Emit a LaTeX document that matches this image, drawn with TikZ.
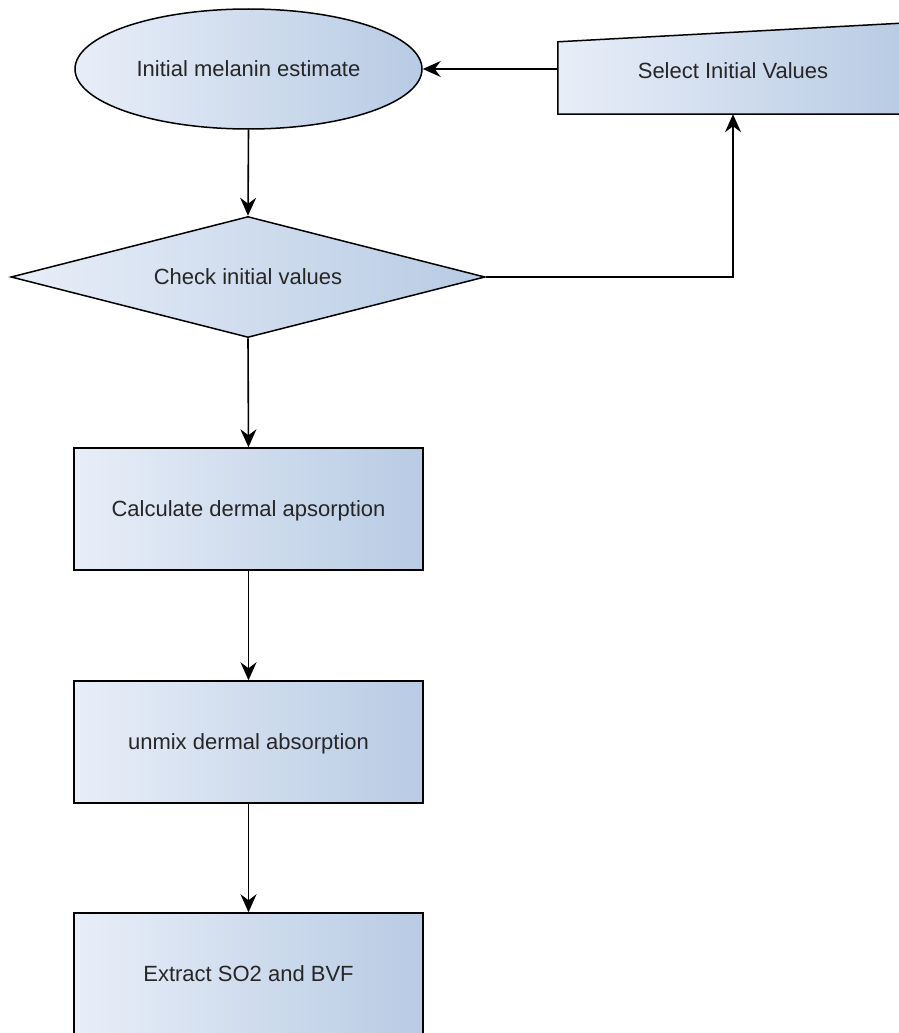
\documentclass[tikz,border=0pt]{standalone}
\usepackage{fontspec}
\setmainfont{Liberation Sans}
\usetikzlibrary{shapes.geometric,arrows.meta,backgrounds}

\definecolor{fillL}{HTML}{E8EEF8}
\definecolor{fillR}{HTML}{B8CBE4}
\definecolor{txt}{HTML}{262626}

\tikzset{
  base/.style={draw=black, line width=1.5pt, left color=fillL, right color=fillR,
    text=txt, font=\fontsize{22}{26}\selectfont, inner sep=0pt,
    text height=15.8pt, text depth=0pt},
  procbox/.style={base, rectangle, minimum width=349pt, minimum height=122pt},
  startoval/.style={base, ellipse, minimum width=347pt, minimum height=120pt},
  decision/.style={base, diamond, aspect=3.9, minimum width=474pt, minimum height=121pt},
  inputtext/.style={rectangle, inner sep=0pt, minimum width=350pt, minimum height=72pt,
    text=txt, font=\fontsize{22}{26}\selectfont, text height=15.8pt, text depth=14pt},
  flow/.style={draw=black, line width=1.6pt, -{Stealth[length=18pt,width=16pt,inset=6pt]}},
}

\begin{document}
\begin{tikzpicture}[x=1pt, y=-1pt]
  \useasboundingbox (0,0) rectangle (899,1033);
  \clip (0,0) rectangle (899,1033);

  % flowchart nodes
  \node[startoval] (ell) at (248.5,69) {Initial melanin estimate};
  \node[decision]  (dia) at (248,277) {Check initial values};
  \node[procbox]   (calc) at (248.5,509) {Calculate dermal apsorption};
  \node[procbox]   (unmix) at (248.5,742) {unmix dermal absorption};
  \node[procbox]   (extr) at (248.5,974) {Extract SO2 and BVF};

  % manual input shape: slanted top edge drawn behind its text
  \node[inputtext] (sel) at (733,78) {Select Initial Values};
  \begin{scope}[on background layer]
    \path[draw=black, line width=1.5pt, left color=fillL, right color=fillR]
      (sel.south west) -- (sel.north west) -- ([yshift=19pt]sel.north east)
      -- (sel.south east) -- cycle;
  \end{scope}

  % connectors
  \draw[flow] (sel.west |- ell) -- (ell);
  \draw[flow] (ell.south) -- (dia.north);
  \draw[flow] (dia.east) -| (sel.south);
  \draw[flow] (dia.south) -- (calc.north);
  \draw[flow] (calc.south) -- (unmix.north);
  \draw[flow] (unmix.south) -- (extr.north);
\end{tikzpicture}
\end{document}
